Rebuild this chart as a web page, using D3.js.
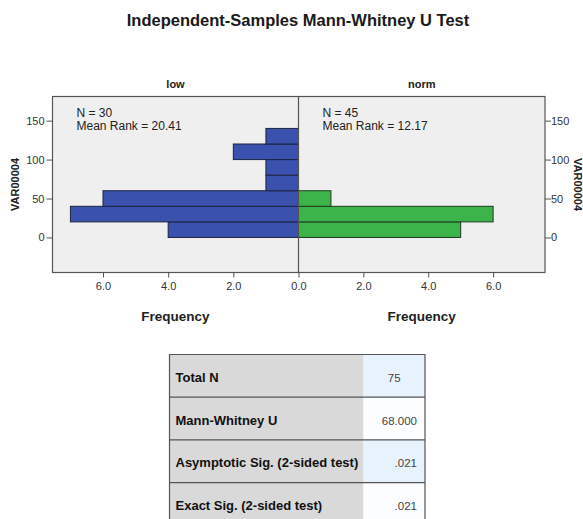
<!DOCTYPE html>
<html>
<head>
<meta charset="utf-8">
<script src="https://cdn.jsdelivr.net/npm/d3@7"></script>
<style>
  body { margin: 0; background: #fff; }
  svg { font-family: "Liberation Sans", Arial, sans-serif; }
</style>
</head>
<body>
<div id="chart"></div>
<script>
"use strict"

// bins of VAR00004 (lower edges), width 20
const binStarts = [0, 20, 40, 60, 80, 100, 120];
const binSize = 20;
const lowFreq = [4, 7, 6, 1, 1, 2, 1];
const normFreq = [5, 6, 1, 0, 0, 0, 0];

const groups = ["low", "norm"];
const groupN = [30, 45];
const meanRanks = ["20.41", "12.17"];

const yTicks = [0, 50, 100, 150];
const xTicks = [0, 2, 4, 6];

const tableLabels = ["Total N", "Mann-Whitney U", "Asymptotic Sig. (2-sided test)", "Exact Sig. (2-sided test)"];
const tableValues = ["75", "68.000", ".021", ".021"];

const W = 583, H = 519;
const plot = {left: 52.5, right: 545, top: 96.5, bottom: 272.5, mid: 298.5};

let svg = d3.select('#chart').append('svg')
  .attr('width', W)
  .attr('height', H);

// title
svg.append('text')
  .attr('x', 298)
  .attr('y', 26)
  .attr('text-anchor', 'middle')
  .attr('font-size', 16.5)
  .attr('font-weight', 'bold')
  .attr('fill', '#1a1a1a')
  .text('Independent-Samples Mann-Whitney U Test');

let y = d3.scaleLinear().domain([-45, 181]).range([plot.bottom, plot.top]);
let xLow = d3.scaleLinear().domain([0, 7.55]).range([plot.mid, plot.left]);
let xNorm = d3.scaleLinear().domain([0, 7.6]).range([plot.mid, plot.right]);

// plot background
svg.append('rect')
  .attr('x', plot.left)
  .attr('y', plot.top)
  .attr('width', plot.right - plot.left)
  .attr('height', plot.bottom - plot.top)
  .attr('fill', '#efefef')
  .attr('stroke', 'none');

const lowData = binStarts.map((b, i) => ({b: b, f: lowFreq[i]})).filter(d => d.f > 0);
const normData = binStarts.map((b, i) => ({b: b, f: normFreq[i]})).filter(d => d.f > 0);

// low bars
svg.selectAll('rect.low')
  .data(lowData)
  .enter()
  .append('rect')
    .attr('class', 'low')
    .attr('x', d => xLow(d.f))
    .attr('y', d => y(d.b + binSize))
    .attr('width', d => xLow(0) - xLow(d.f))
    .attr('height', d => y(d.b) - y(d.b + binSize))
    .attr('fill', '#3a52ad')
    .attr('stroke', '#1c2340')
    .attr('stroke-width', 1);

// norm bars
svg.selectAll('rect.norm')
  .data(normData)
  .enter()
  .append('rect')
    .attr('class', 'norm')
    .attr('x', xNorm(0))
    .attr('y', d => y(d.b + binSize))
    .attr('width', d => xNorm(d.f) - xNorm(0))
    .attr('height', d => y(d.b) - y(d.b + binSize))
    .attr('fill', '#3cb449')
    .attr('stroke', '#1f3a22')
    .attr('stroke-width', 1);

// frame and centre line
svg.append('rect')
  .attr('x', plot.left)
  .attr('y', plot.top)
  .attr('width', plot.right - plot.left)
  .attr('height', plot.bottom - plot.top)
  .attr('fill', 'none')
  .attr('stroke', '#555')
  .attr('stroke-width', 1.2);
svg.append('line')
  .attr('x1', plot.mid).attr('x2', plot.mid)
  .attr('y1', plot.top).attr('y2', plot.bottom)
  .attr('stroke', '#555')
  .attr('stroke-width', 1.2);

function styleAxis(g) {
  g.select('.domain').remove();
  g.selectAll('.tick line').attr('stroke', '#555');
  g.selectAll('.tick text').attr('fill', '#333').attr('font-size', 11);
}

// y axes
svg.append('g')
  .attr('transform', `translate(${plot.left},0)`)
  .call(d3.axisLeft(y).tickValues(yTicks).tickSize(6).tickPadding(2))
  .call(styleAxis);
svg.append('g')
  .attr('transform', `translate(${plot.right},0)`)
  .call(d3.axisRight(y).tickValues(yTicks).tickSize(6).tickPadding(0))
  .call(styleAxis);

// x axes
svg.append('g')
  .attr('transform', `translate(0,${plot.bottom})`)
  .call(d3.axisBottom(xLow).tickValues(xTicks).tickFormat(d3.format('.1f')).tickSize(5).tickPadding(5))
  .call(styleAxis);
svg.append('g')
  .attr('transform', `translate(0,${plot.bottom})`)
  .call(d3.axisBottom(xNorm).tickValues(xTicks.slice(1)).tickFormat(d3.format('.1f')).tickSize(5).tickPadding(5))
  .call(styleAxis);

// panel headers and axis titles
const centres = [(plot.left + plot.mid) / 2, (plot.mid + plot.right) / 2];
groups.forEach((g, i) => {
  svg.append('text')
    .attr('x', centres[i])
    .attr('y', 88)
    .attr('text-anchor', 'middle')
    .attr('font-size', 11)
    .attr('font-weight', 'bold')
    .attr('fill', '#222')
    .text(g);
  svg.append('text')
    .attr('x', centres[i])
    .attr('y', 321)
    .attr('text-anchor', 'middle')
    .attr('font-size', 13.5)
    .attr('font-weight', 'bold')
    .attr('fill', '#222')
    .text('Frequency');
  let ax = i === 0 ? 76.5 : 322.5;
  svg.append('text')
    .attr('x', ax).attr('y', 117)
    .attr('font-size', 12).attr('fill', '#222')
    .text(`N = ${groupN[i]}`);
  svg.append('text')
    .attr('x', ax).attr('y', 130)
    .attr('font-size', 12).attr('fill', '#222')
    .text(`Mean Rank = ${meanRanks[i]}`);
});

const yMid = (plot.top + plot.bottom) / 2;
svg.append('text')
  .attr('transform', `translate(19,${yMid}) rotate(-90)`)
  .attr('text-anchor', 'middle')
  .attr('font-size', 11)
  .attr('font-weight', 'bold')
  .attr('fill', '#222')
  .text('VAR00004');
svg.append('text')
  .attr('transform', `translate(574,${yMid}) rotate(90)`)
  .attr('text-anchor', 'middle')
  .attr('font-size', 11)
  .attr('font-weight', 'bold')
  .attr('fill', '#222')
  .text('VAR00004');

// statistics table
const tab = {left: 169.5, split: 363.5, right: 425, top: 354.5, rowH: 42.7};
const rowFill = ['#e8f2fc', '#fbfdff', '#e8f2fc', '#fbfdff'];

let rows = svg.selectAll('g.row')
  .data(tableLabels)
  .enter()
  .append('g')
    .attr('class', 'row')
    .attr('transform', (d, i) => `translate(0,${tab.top + i * tab.rowH})`);

rows.append('rect')
  .attr('x', tab.left).attr('y', 0)
  .attr('width', tab.split - tab.left).attr('height', tab.rowH)
  .attr('fill', '#d9d9d9');
rows.append('rect')
  .attr('x', tab.split).attr('y', 0)
  .attr('width', tab.right - tab.split).attr('height', tab.rowH)
  .attr('fill', (d, i) => rowFill[i]);
rows.append('line')
  .attr('x1', tab.left).attr('x2', tab.right)
  .attr('y1', 0).attr('y2', 0)
  .attr('stroke', '#555').attr('stroke-width', 1.2);
rows.append('text')
  .attr('x', tab.left + 6)
  .attr('y', tab.rowH / 2 + 6)
  .attr('font-size', 13)
  .attr('font-weight', 'bold')
  .attr('fill', '#111')
  .text(d => d);
rows.append('text')
  .attr('x', (d, i) => i === 0 ? (tab.split + tab.right) / 2 : tab.right - 8)
  .attr('y', tab.rowH / 2 + 6)
  .attr('text-anchor', (d, i) => i === 0 ? 'middle' : 'end')
  .attr('font-size', 11.5)
  .attr('fill', '#444')
  .text((d, i) => tableValues[i]);

// outer table edges
svg.append('path')
  .attr('d', `M${tab.left},${H}V${tab.top}H${tab.right}V${H}`)
  .attr('fill', 'none')
  .attr('stroke', '#555')
  .attr('stroke-width', 1.2);
</script>
</body>
</html>
